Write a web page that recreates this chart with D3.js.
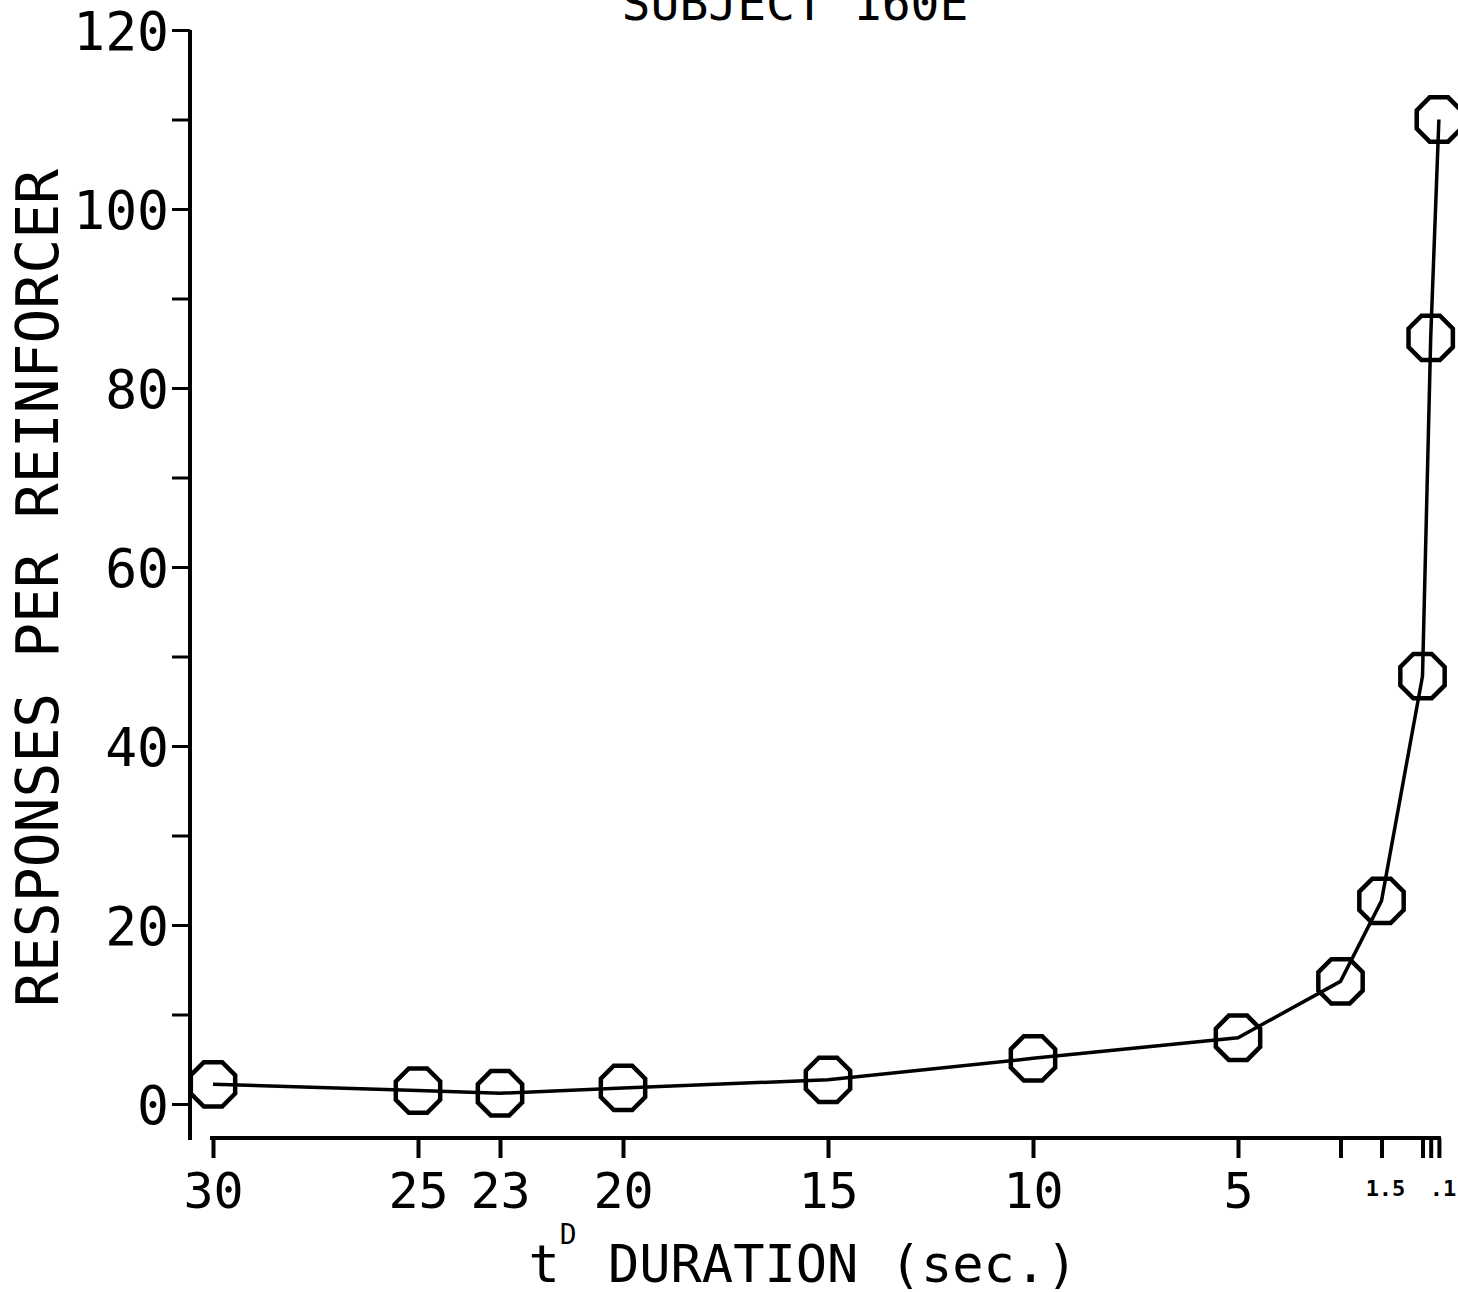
<!DOCTYPE html>
<html>
<head>
<meta charset="utf-8">
<script src="https://cdn.jsdelivr.net/npm/d3@7"></script>
<style>
  html, body { margin: 0; padding: 0; background: #fff; }
  svg { display: block; }
  text { font-family: "DejaVu Sans Mono", "Liberation Mono", monospace; fill: #000; }
</style>
</head>
<body>
<svg id="chart"></svg>
<script>
// Data (Subject 160E)
const durations = [30, 25, 23, 20, 15, 10, 5, 2.5, 1.5, 0.5, 0.3, 0.1];
const responses = [2.2, 1.5, 1.2, 1.8, 2.7, 5.1, 7.4, 13.7, 22.7, 47.8, 85.6, 110];
const xTickValues = [30, 25, 23, 20, 15, 10, 5, 2.5, 1.5, 0.5, 0.3, 0.1];
const xBigLabels = { 30: '30', 25: '25', 23: '23', 20: '20', 15: '15', 10: '10', 5: '5' };
const xSmallLabels = { 1.5: '1.5', 0.1: '.1' };
const yTickValues = [0, 10, 20, 30, 40, 50, 60, 70, 80, 90, 100, 110, 120];
const yLabelValues = [0, 20, 40, 60, 80, 100, 120];

const W = 1458, H = 1292;
const svg = d3.select('#chart').attr('width', W).attr('height', H);

// Scales (x runs from long to short durations)
const x = d3.scaleLinear().domain([30, 0]).range([213, 1443]);
const y = d3.scaleLinear().domain([0, 120]).range([1104, 30]);

const axisX = 190, axisY = 1138;

// Y axis
const yAxis = d3.axisLeft(y)
    .tickValues(yTickValues)
    .tickSize(18)
    .tickPadding(3)
    .tickFormat(d => yLabelValues.includes(d) ? d : '');

const gy = svg.append('g')
    .attr('transform', `translate(${axisX},0)`)
    .call(yAxis);
gy.select('.domain').remove();
gy.selectAll('.tick line').attr('stroke', '#000').attr('stroke-width', 3);
gy.selectAll('.tick text')
    .style('font-size', '53px')
    .attr('dy', '0.36em');
gy.append('line')
    .attr('x1', 0).attr('x2', 0)
    .attr('y1', y(120)).attr('y2', axisY + 2)
    .attr('stroke', '#000').attr('stroke-width', 4);

// X axis
const xAxis = d3.axisBottom(x)
    .tickValues(xTickValues)
    .tickSize(20)
    .tickPadding(14)
    .tickFormat(d => xBigLabels[d] || '');

const gx = svg.append('g')
    .attr('transform', `translate(0,${axisY})`)
    .call(xAxis);
gx.select('.domain').remove();
gx.selectAll('.tick line').attr('stroke', '#000').attr('stroke-width', 4);
gx.selectAll('.tick text').style('font-size', '50px');
gx.append('line')
    .attr('x1', x(30) - 3).attr('x2', x(0.1) + 2)
    .attr('y1', 0).attr('y2', 0)
    .attr('stroke', '#000').attr('stroke-width', 4);

// small labels near zero
gx.selectAll('.small-label')
    .data(Object.keys(xSmallLabels).map(Number))
    .join('text')
    .attr('class', 'small-label')
    .attr('x', d => x(d) + 4)
    .attr('y', 58)
    .attr('text-anchor', 'middle')
    .style('font-size', '22px')
    .style('font-weight', 'bold')
    .text(d => xSmallLabels[d]);

// Connecting line
const pts = durations.map((d, i) => [x(d), y(responses[i])]);
svg.append('path')
    .datum(pts)
    .attr('d', d3.line().curve(d3.curveLinear))
    .attr('fill', 'none')
    .attr('stroke', '#000')
    .attr('stroke-width', 3.5);

// Octagon markers
const r = 24;
const octagon = d3.range(8).map(k => {
    const a = Math.PI / 8 + k * Math.PI / 4;
    return [r * Math.cos(a), r * Math.sin(a)];
});
svg.append('g')
    .selectAll('path')
    .data(pts)
    .join('path')
    .attr('transform', d => `translate(${d[0]},${d[1]})`)
    .attr('d', d3.line()(octagon) + 'Z')
    .attr('fill', 'none')
    .attr('stroke', '#000')
    .attr('stroke-width', 4.5);

// Titles
svg.append('text')
    .attr('x', 795).attr('y', 20)
    .attr('text-anchor', 'middle')
    .style('font-size', '48px')
    .text('SUBJECT 160E');

svg.append('text')
    .attr('transform', 'translate(58,588) rotate(-90)')
    .attr('text-anchor', 'middle')
    .style('font-size', '58px')
    .text('RESPONSES PER REINFORCER');

const xt = svg.append('text')
    .attr('x', 803).attr('y', 1282)
    .attr('text-anchor', 'middle')
    .style('font-size', '52px');
xt.append('tspan').text('t');
xt.append('tspan').attr('dy', -38).style('font-size', '28px').text('D');
xt.append('tspan').attr('dy', 38).text(' DURATION (sec.)');
</script>
</body>
</html>
